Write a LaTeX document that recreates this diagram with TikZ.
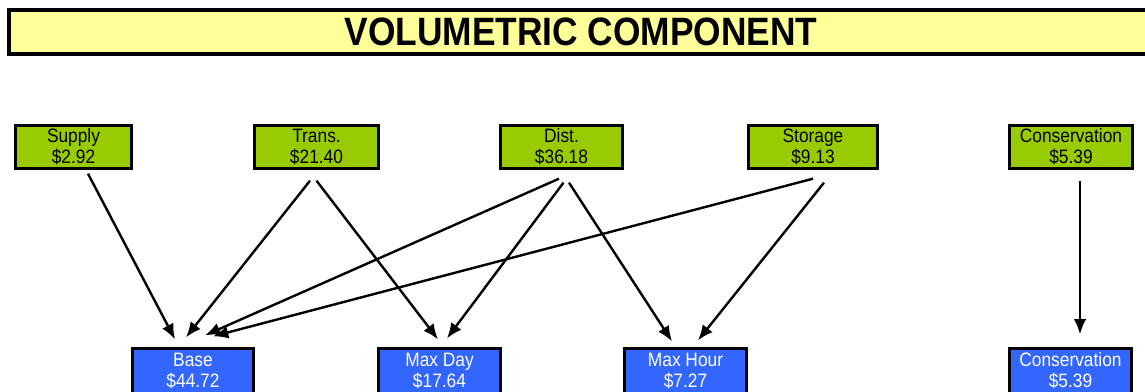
\documentclass[tikz,border=0pt]{standalone}
\usepackage{fontspec}
\setmainfont{Liberation Sans}
\usetikzlibrary{arrows.meta, positioning}
\definecolor{titleyellow}{HTML}{FFFF99}
\definecolor{costgreen}{HTML}{99CC00}
\definecolor{costblue}{HTML}{3366FF}

\begin{document}
\begin{tikzpicture}[x=0.75pt, y=-0.75pt,
    titlebar/.style = {draw, line width=3pt, fill=titleyellow, yscale=1.12,
      minimum width=858pt, minimum height=29.5pt, inner sep=0pt,
      font=\bfseries\fontsize{26.5}{30}\selectfont},
    cost/.style = {draw, line width=2.25pt, fill=costgreen, yscale=1.12,
      minimum width=92pt, minimum height=28.8pt, inner sep=0pt, align=center,
      font=\fontsize{13}{14}\selectfont},
    part/.style = {cost, fill=costblue, text=white, minimum height=30.1pt},
    flow/.style = {line width=1.8pt, -{Latex[length=11.5pt,width=9.5pt]}}]
  \useasboundingbox (0,0) rectangle (1145,392);

  \node[titlebar] (title) at (581,32) {VOLUMETRIC COMPONENT};

  % cost components
  \node[cost, minimum width=87pt]    (supply)  at (73.5,147)  {Supply\\\$2.92};
  \node[cost, minimum width=93pt]    (trans)   at (316.5,147) {Trans.\\\$21.40};
  \node[cost, minimum width=91.5pt]  (dist)    at (561.5,147) {Dist.\\\$36.18};
  \node[cost, minimum width=96.75pt] (storage) at (813,147)   {Storage\\\$9.13};
  \node[cost]                        (consA)   at (1071,147)  {Conservation\\\$5.39};

  % allocated parts
  \node[part, minimum width=90.75pt] (base)    at (193,371)    {Base\\\$44.72};
  \node[part, minimum width=91.5pt]  (maxday)  at (439.5,371)  {Max Day\\\$17.64};
  \node[part, minimum width=91.5pt]  (maxhour) at (685.5,371)  {Max Hour\\\$7.27};
  \node[part, minimum width=91.5pt]  (consB)   at (1070.5,371) {Conservation\\\$5.39};

  \path[flow]
  ([shift={(14.5,3.5)}]supply.south) edge ([shift={(-18,-7.5)}]base.north)
  ([shift={(-6.5,10.5)}]trans.south)  edge ([shift={(-7,-9.5)}]base.north)
  ([shift={(0,10.5)}]trans.south)     edge ([shift={(-1.5,-7.5)}]maxday.north)
  ([shift={(-2.5,8.5)}]dist.south)    edge ([shift={(12,-11.5)}]base.north)
  ([shift={(2,12.5)}]dist.south)      edge ([shift={(7.5,-8.5)}]maxday.north)
  ([shift={(7.5,12.5)}]dist.south)    edge ([shift={(-13.5,-5.5)}]maxhour.north)
  ([shift={(0,8.5)}]storage.south)    edge ([shift={(20,-10.5)}]base.north)
  ([shift={(11,12.5)}]storage.south)  edge ([shift={(12.5,-6.5)}]maxhour.north)
  ([shift={(9,10.5)}]consA.south)     edge ([shift={(9.5,-12.5)}]consB.north);
\end{tikzpicture}
\end{document}
